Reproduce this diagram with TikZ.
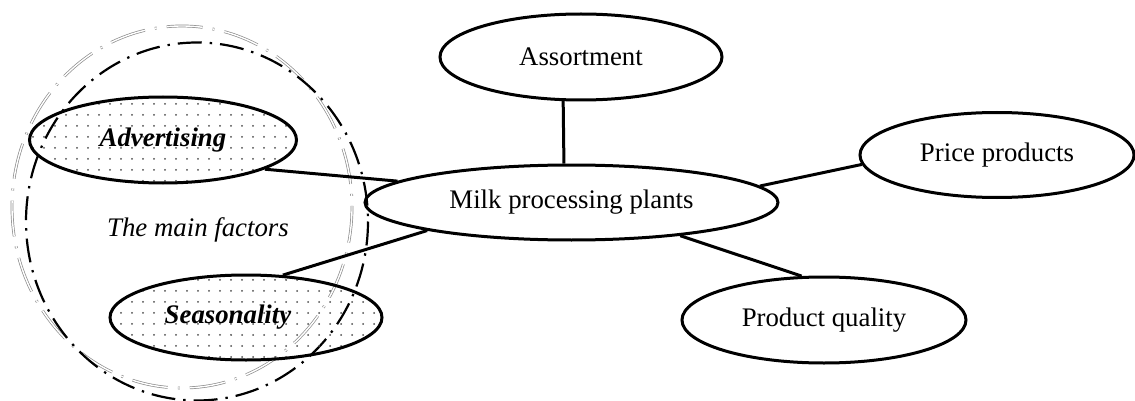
\documentclass[tikz,border=0pt]{standalone}
\usepackage{fontspec}
\setmainfont{Liberation Serif}
\usetikzlibrary{shapes.geometric,patterns.meta}
\begin{document}
\begin{tikzpicture}[x=0.5pt,y=-0.5pt,
  txt/.style={font=\fontsize{13.4}{16}\selectfont},
  oval/.style={ellipse,draw,line width=1.5pt,inner sep=0pt,txt},
  factor/.style={oval,pattern={Dots[distance=5.5pt,radius=0.5pt]},pattern color=black!70,
    font=\fontsize{13.4}{16}\selectfont\bfseries\itshape},
  link/.style={line width=1.5pt},
  grayring/.style={draw=black!45,line width=0.35pt,double=white,double distance=0.7pt,
    dash pattern=on 18pt off 5pt on 1pt off 5pt},
  blackring/.style={draw=black,line width=1.1pt,dash pattern=on 12pt off 4pt on 1.2pt off 4pt}]
\useasboundingbox (0,0) rectangle (1135,401);
% group rings
\draw[grayring] (182,207) ellipse [x radius=170, y radius=181];
\draw[blackring] (197,221.5) ellipse [x radius=171, y radius=179];
% nodes
\node[oval,minimum width=141pt,minimum height=43pt] (asrt) at (581,57) {Assortment};
\node[oval,minimum width=206.5pt,minimum height=37.5pt] (milk) at (571.5,202.5) {Milk processing plants};
\node[oval,minimum width=137pt,minimum height=42.5pt] (price) at (997,155) {Price products};
\node[oval,minimum width=142pt,minimum height=43pt] (qual) at (824,320) {Product quality};
\node[factor,minimum width=133.5pt,minimum height=43pt] (adv) at (163,140) {Advertising};
\node[factor,minimum width=136pt,minimum height=42.5pt] (seas) at (246,317.5) {Seasonality\hspace*{18pt}};
\node[txt,font=\fontsize{13.4}{16}\selectfont\itshape] (mf) at (198,230) {The main factors};
% connectors
\draw[link] (asrt.248) -- (milk.101);
\draw[link] (adv.344) -- (milk.173);
\draw[link] (seas.49) -- (milk.191);
\draw[link] (milk.5) -- (price.184);
\draw[link] (milk.343) -- (qual.117);
\end{tikzpicture}
\end{document}
